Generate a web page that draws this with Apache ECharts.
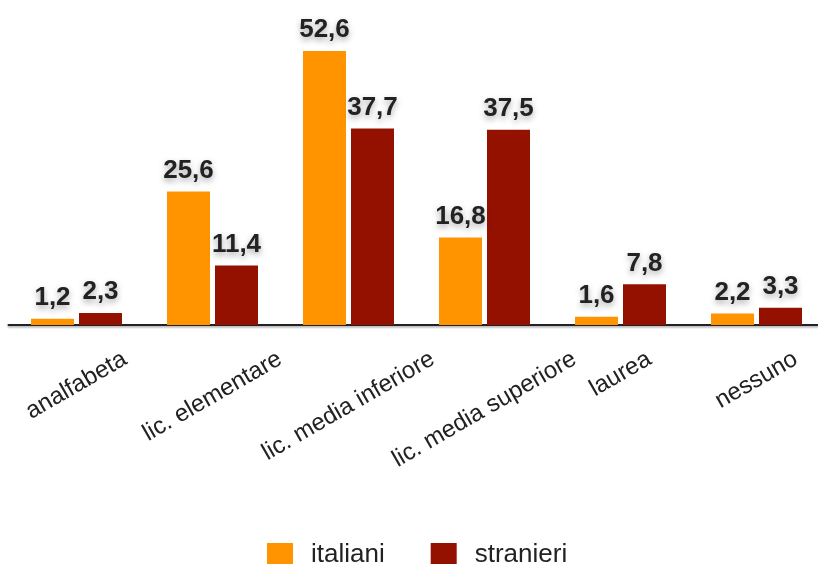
<!DOCTYPE html>
<html><head><meta charset="utf-8">
<script src="https://cdn.jsdelivr.net/npm/echarts@6/dist/echarts.min.js"></script>
<style>html,body{margin:0;padding:0;background:#fff}#c{width:818px;height:564px}</style>
</head><body><div id="c"></div>
<script>
const categories = ['analfabeta', 'lic. elementare', 'lic. media inferiore', 'lic. media superiore', 'laurea', 'nessuno'];
const italiani = [1.2, 25.6, 52.6, 16.8, 1.6, 2.2];
const stranieri = [2.3, 11.4, 37.7, 37.5, 7.8, 3.3];
const seriesNames = ['italiani', 'stranieri'];

const FONT = "'Liberation Sans', Arial, Helvetica, sans-serif";
const axisFontSize = 24;
const ROT = 30;
const axisY = 325;
const labelTopY = 347;
const margin = 4;
const ctx = document.createElement('canvas').getContext('2d');
ctx.font = axisFontSize + 'px ' + FONT;
const th = ROT * Math.PI / 180, s = Math.sin(th), c = Math.cos(th);
const catData = categories.map(name => {
  const w = ctx.measureText(name).width;
  const h = axisFontSize;
  const centerY = labelTopY + (w * s + h * c) / 2;
  const D = centerY - (axisY + margin);
  return { value: name, textStyle: { align: 'center', verticalAlign: 'top', padding: [Math.max(0, D * c - h / 2), 2 * D * s, 0, 0] } };
});

const labelStyle = {
  show: true, position: 'top', distance: 8,
  formatter: p => p.value.toFixed(1).replace('.', ','),
  fontSize: 26, fontWeight: 'bold', color: '#222', fontFamily: FONT,
  textShadowColor: 'rgba(0,0,0,0.35)', textShadowBlur: 6, textShadowOffsetY: 3
};

const chart = echarts.init(document.getElementById('c'));
chart.setOption({
  animation: false,
  backgroundColor: '#fff',
  grid: { left: 8.5, right: -6.5, top: 12.4, bottom: 239, containLabel: false, outerBoundsMode: 'none' },
  legend: {
    left: 262, top: 537, itemWidth: 26, itemHeight: 24, itemGap: 46, icon: 'rect',
    textStyle: { fontSize: 26, color: '#222', fontFamily: FONT, padding: [0, 0, 0, 13] },
    data: seriesNames
  },
  xAxis: {
    type: 'category', data: catData,
    axisLine: { lineStyle: { color: '#222', width: 2, shadowColor: 'rgba(0,0,0,0.35)', shadowBlur: 2, shadowOffsetY: 1.5 } },
    axisTick: { show: false },
    axisLabel: {
      interval: 0, rotate: ROT, align: 'center', verticalAlign: 'top', margin: margin,
      fontSize: axisFontSize, color: '#222', fontFamily: FONT
    }
  },
  yAxis: { type: 'value', min: 0, max: 60, show: false, splitLine: { show: false } },
  series: [
    { name: seriesNames[0], type: 'bar', data: italiani, barWidth: 43, barGap: '11.6%', itemStyle: { color: '#FF9300' }, label: labelStyle },
    { name: seriesNames[1], type: 'bar', data: stranieri, barWidth: 43, barGap: '11.6%', itemStyle: { color: '#941100' }, label: labelStyle }
  ]
});
</script></body></html>
